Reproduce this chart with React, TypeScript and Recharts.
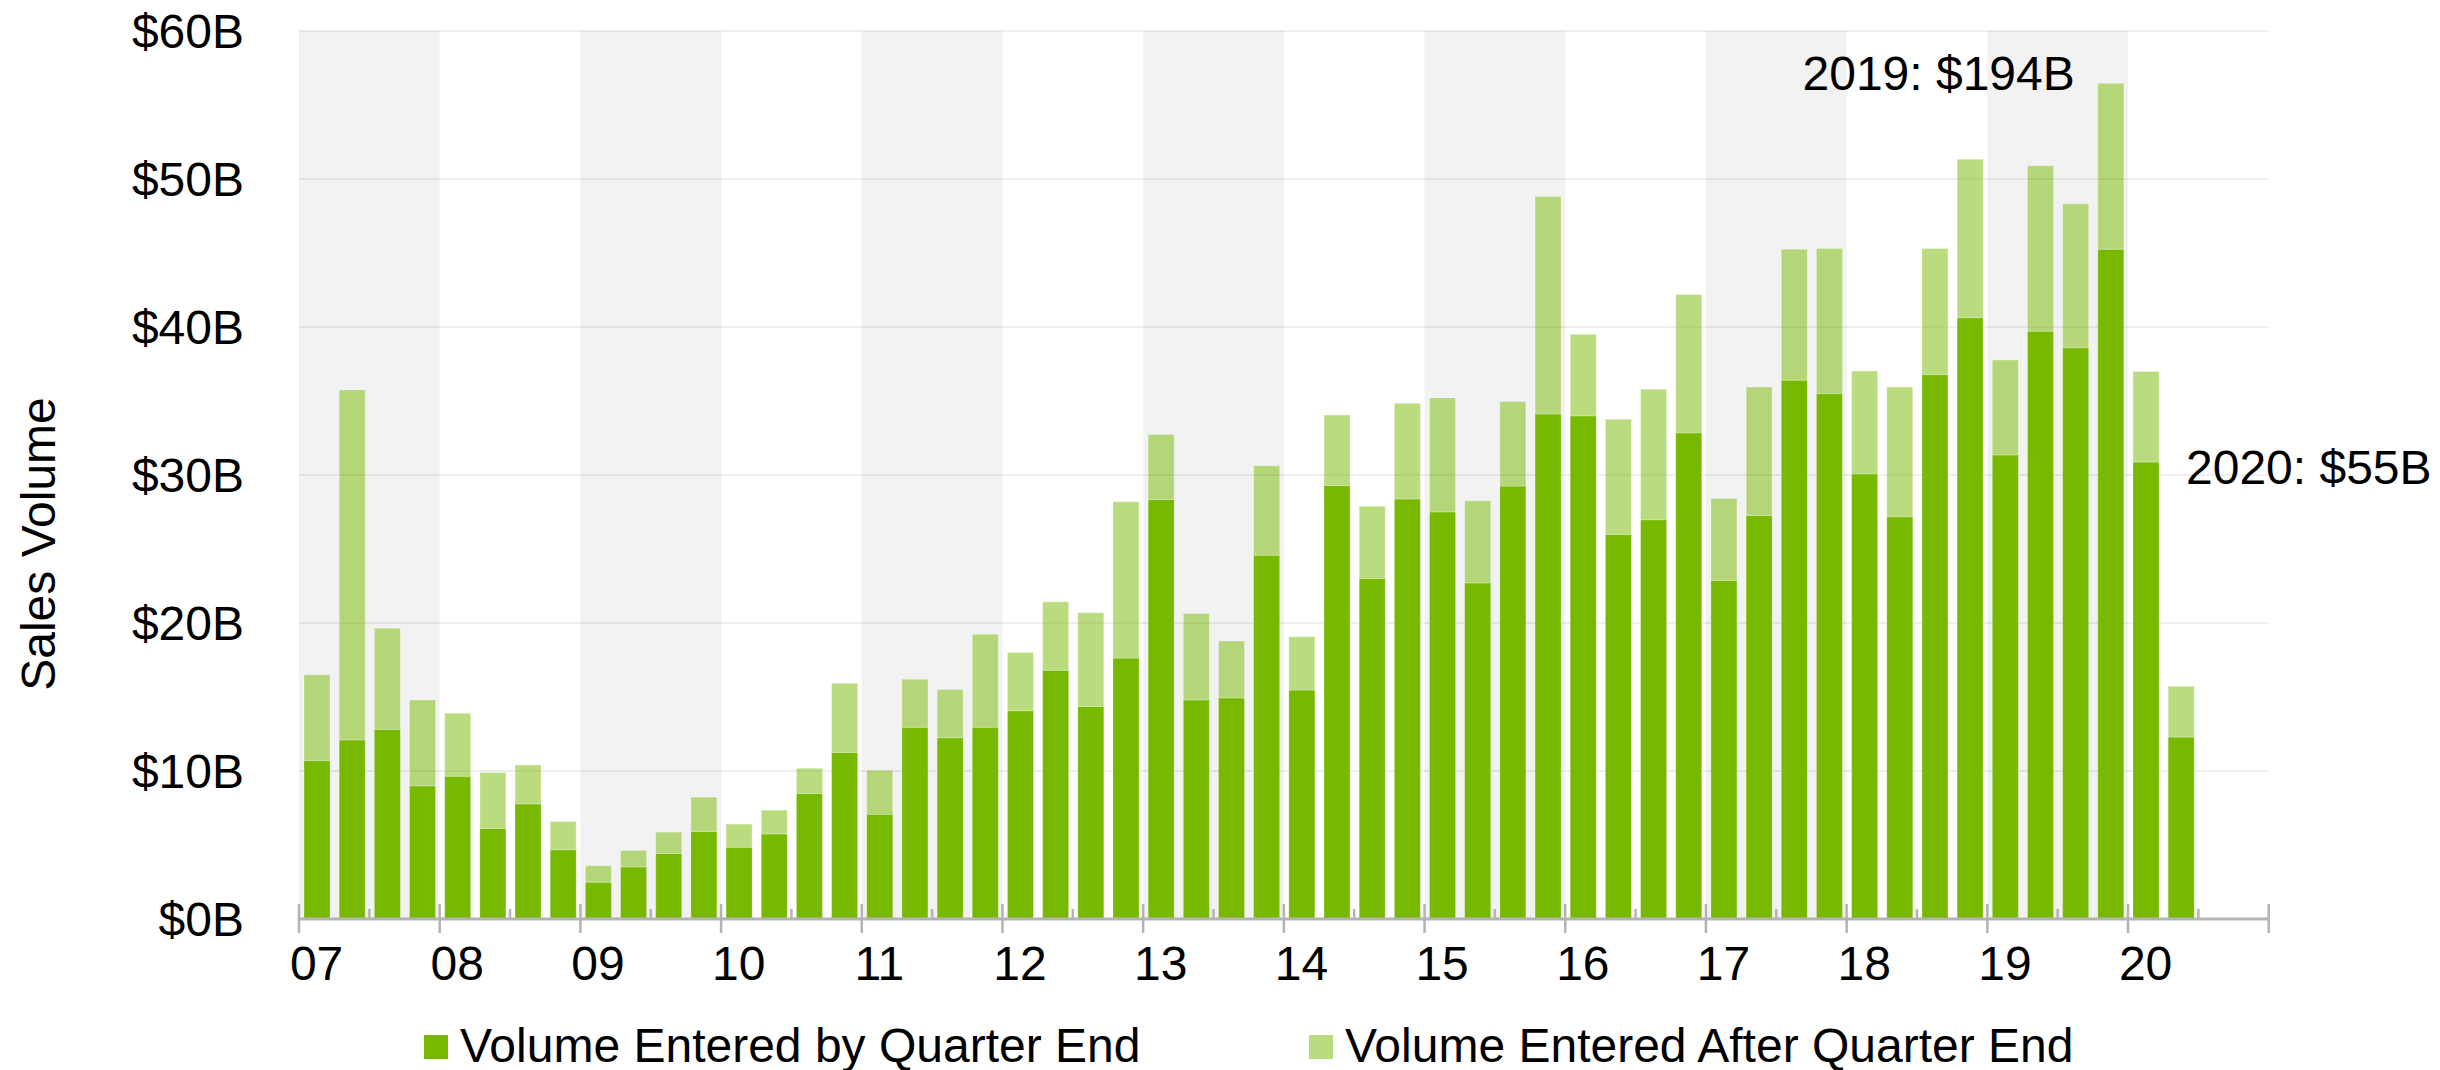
import React from 'react';
import { BarChart, Bar, XAxis, YAxis, CartesianGrid, ReferenceArea, Legend } from 'recharts';

// Quarter keys: two-digit year + quarter number
const quarters = [
  '07Q1', '07Q2', '07Q3', '07Q4',
  '08Q1', '08Q2', '08Q3', '08Q4',
  '09Q1', '09Q2', '09Q3', '09Q4',
  '10Q1', '10Q2', '10Q3', '10Q4',
  '11Q1', '11Q2', '11Q3', '11Q4',
  '12Q1', '12Q2', '12Q3', '12Q4',
  '13Q1', '13Q2', '13Q3', '13Q4',
  '14Q1', '14Q2', '14Q3', '14Q4',
  '15Q1', '15Q2', '15Q3', '15Q4',
  '16Q1', '16Q2', '16Q3', '16Q4',
  '17Q1', '17Q2', '17Q3', '17Q4',
  '18Q1', '18Q2', '18Q3', '18Q4',
  '19Q1', '19Q2', '19Q3', '19Q4',
  '20Q1', '20Q2',
];

// Sales volume ($B) entered by quarter end
const enteredByQuarterEnd = [
  10.7, 12.1, 12.8, 9.0,
  9.64, 6.12, 7.78, 4.68,
  2.48, 3.52, 4.43, 5.92,
  4.84, 5.75, 8.48, 11.25,
  7.07, 12.95, 12.25, 12.95,
  14.07, 16.8, 14.36, 17.63,
  28.34, 14.81, 14.94, 24.58,
  15.47, 29.29, 23.0, 28.38,
  27.51, 22.71, 29.25, 34.13,
  34.0, 25.98, 26.98, 32.85,
  22.88, 27.27, 36.41, 35.5,
  30.08, 27.18, 36.78, 40.63,
  31.36, 39.72, 38.6, 45.26,
  30.87, 12.29,
];

// Sales volume ($B) entered after quarter end
const enteredAfterQuarterEnd = [
  5.8, 23.65, 6.85, 5.8,
  4.26, 3.78, 2.62, 1.9,
  1.12, 1.11, 1.44, 2.31,
  1.57, 1.61, 1.7, 4.68,
  2.98, 3.25, 3.25, 6.29,
  3.93, 4.63, 6.33, 10.57,
  4.39, 5.84, 3.84, 6.04,
  3.6, 4.76, 4.89, 6.46,
  7.7, 5.55, 5.71, 14.69,
  5.51, 7.78, 8.81, 9.35,
  5.54, 8.68, 8.85, 9.8,
  6.95, 8.77, 8.52, 10.71,
  6.41, 11.17, 9.72, 11.21,
  6.12, 3.43,
];

const yearTicks = [2007, 2008, 2009, 2010, 2011, 2012, 2013, 2014, 2015, 2016, 2017, 2018, 2019, 2020, 2021];
const shadedYears = [2007, 2009, 2011, 2013, 2015, 2017, 2019];
const valueTicks = [0, 10, 20, 30, 40, 50, 60];

const seriesNames = ['Volume Entered by Quarter End', 'Volume Entered After Quarter End'];
const annotations = ['2019: $194B', '2020: $55B'];

const GREEN = '#76b900';
const AXIS_GRAY = '#b3b3b3';
const FONT = '"Liberation Sans", Arial, Helvetica, sans-serif';

// Each quarter sits in the middle of its quarter-year slot on a continuous year axis
const rows = quarters.map((q, i) => {
  const year = 2000 + parseInt(q.slice(0, 2), 10);
  const qi = parseInt(q.slice(3), 10);
  return {
    quarter: q,
    pos: year + (qi - 0.5) / 4,
    entered: enteredByQuarterEnd[i],
    after: enteredAfterQuarterEnd[i],
  };
});

// Major ticks on year boundaries, minor ticks at mid-year
const axisTicks: number[] = [];
yearTicks.forEach((y, i) => {
  axisTicks.push(y);
  if (i < yearTicks.length - 1) axisTicks.push(y + 0.5);
});

const YearTick = (props: any) => {
  const { x, y, payload } = props;
  const v = payload.value as number;
  const isYear = Math.abs(v - Math.round(v)) < 1e-6;
  if (!isYear) {
    return <line x1={x} x2={x} y1={y - 10} y2={y} stroke={AXIS_GRAY} strokeWidth={2.5} />;
  }
  const quarterWidth = props.quarterWidth ?? 35.17;
  return (
    <g>
      <line x1={x} x2={x} y1={y - 15} y2={y + 14} stroke={AXIS_GRAY} strokeWidth={2.5} />
      {v < 2021 && (
        <text
          x={x + quarterWidth / 2}
          y={y + 61}
          textAnchor="middle"
          fontSize={48}
          fontFamily={FONT}
          fill="#000"
        >
          {String(v % 100).padStart(2, '0')}
        </text>
      )}
    </g>
  );
};

const LegendContent = () => (
  <svg width={2440} height={70} style={{ display: 'block' }}>
    <rect x={424} y={25} width={24} height={24} fill={GREEN} />
    <text x={460} y={52} fontSize={48} fontFamily={FONT} fill="#000">
      {seriesNames[0]}
    </text>
    <rect x={1309} y={25} width={24} height={24} fill={GREEN} fillOpacity={0.5} />
    <text x={1345} y={52} fontSize={48} fontFamily={FONT} fill="#000">
      {seriesNames[1]}
    </text>
  </svg>
);

export default function App() {
  return (
    <div style={{ position: 'absolute', left: 0, top: 0, width: 2440, height: 1070, background: '#fff' }}>
      <BarChart
        width={2440}
        height={1070}
        data={rows}
        margin={{ top: 31, right: 171.3, left: 0, bottom: 91 }}
      >
        {shadedYears.map((y) => (
          <ReferenceArea
            key={y}
            x1={y}
            x2={y + 1}
            fill="#000"
            fillOpacity={0.05}
            stroke="none"
          />
        ))}
        <CartesianGrid vertical={false} stroke="#000" strokeOpacity={0.09} strokeWidth={1.5} />
        <XAxis
          type="number"
          dataKey="pos"
          domain={[2007, 2021]}
          ticks={axisTicks}
          interval={0}
          height={60}
          tickSize={0}
          tickMargin={0}
          tickLine={false}
          axisLine={{ stroke: AXIS_GRAY, strokeWidth: 3 }}
          tick={<YearTick />}
        />
        <YAxis
          domain={[0, 60]}
          ticks={valueTicks}
          width={299}
          axisLine={false}
          tickLine={false}
          tickSize={0}
          tickMargin={55}
          tickFormatter={(v: number) => `$${v}B`}
          tick={{ fontSize: 48, fill: '#000', fontFamily: FONT }}
        />
        <Bar
          dataKey="entered"
          name={seriesNames[0]}
          stackId="vol"
          fill={GREEN}
          stroke="#fff"
          strokeOpacity={0.25}
          strokeWidth={1}
          barSize={26}
          isAnimationActive={false}
        />
        <Bar
          dataKey="after"
          name={seriesNames[1]}
          stackId="vol"
          fill={GREEN}
          fillOpacity={0.5}
          stroke="#fff"
          strokeOpacity={0.3}
          strokeWidth={1}
          barSize={26}
          isAnimationActive={false}
        />
        <Legend
          layout="horizontal"
          verticalAlign="middle"
          align="center"
          wrapperStyle={{ top: 1010, left: 0, width: 2440, height: 70 }}
          content={<LegendContent />}
        />
        <text
          x={54.5}
          y={544}
          transform="rotate(-90, 54.5, 544)"
          textAnchor="middle"
          fontSize={48}
          fontFamily={FONT}
          fill="#000"
        >
          Sales Volume
        </text>
        <text x={1802.5} y={90} fontSize={48} fontFamily={FONT} fill="#000">
          {annotations[0]}
        </text>
        <text x={2186} y={484} fontSize={48} fontFamily={FONT} fill="#000">
          {annotations[1]}
        </text>
      </BarChart>
    </div>
  );
}
